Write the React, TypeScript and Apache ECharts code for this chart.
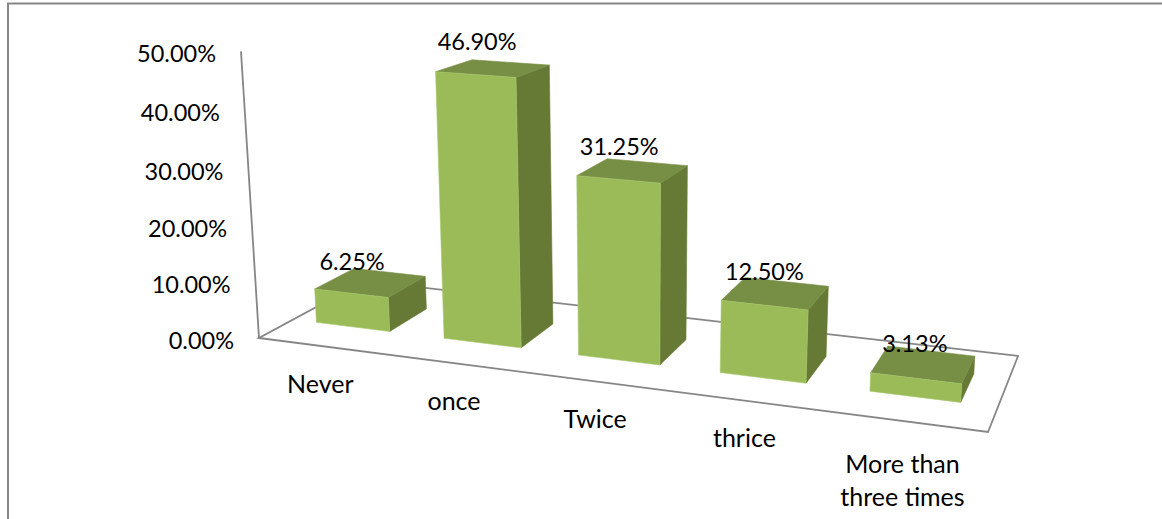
import { useEffect, useRef } from "react";
import * as echarts from "echarts";

const categories = ["Never", "once", "Twice", "thrice", "More than\nthree times"];
const shares = [6.25, 46.9, 31.25, 12.5, 3.13];
const tickValues = [0, 10, 20, 30, 40, 50];
const tickLabels = ["0.00%", "10.00%", "20.00%", "30.00%", "40.00%", "50.00%"];

const FRONT = "#9BBB59";
const FRONT_EDGE = "#A8C86C";
const TOP = "#778F45";
const SIDE = "#667A36";
const LINE = "#868686";
const FONT_FAMILY = "Lato, 'Open Sans', sans-serif";
const FONT = `23.5px ${FONT_FAMILY}`;
const CATEGORY_FONT = `25px ${FONT_FAMILY}`;

const GRID = { left: 259, top: 52, width: 729, height: 286 };
const Y_MAX = 50;

// Camera projection: u runs along the categories, v runs into the depth of the floor, h is the value.
function project(u: number, v: number, h: number): number[] {
  const w = 1 - 0.1301 * u + 0.1215 * v - 0.00091 * h;
  return [
    (600.5 * u + 149.8 * v + 259 - 0.579 * h) / w,
    (37.8 * u - 22.9 * v + 338 - 5.78 * h) / w,
  ];
}

// Converts a point placed by the cartesian axes into projected screen space.
function fromAxes(api: any, category: number, value: number) {
  const p = api.coord([category, value]);
  return {
    u: (p[0] - GRID.left) / GRID.width,
    h: ((GRID.top + GRID.height - p[1]) / GRID.height) * Y_MAX,
  };
}

const BAR_V0 = 0.3;
const BAR_V1 = 0.68;
const BAR_U_BEFORE = 0.0625;
const BAR_U_AFTER = 0.0535;

function renderFloor() {
  const corners = [project(0, 0, 0), project(1, 0, 0), project(1, 1, 0), project(0, 1, 0)];
  return {
    type: "group",
    children: [
      {
        type: "polygon",
        shape: { points: corners },
        style: { fill: "none", stroke: LINE, lineWidth: 1.8 },
      },
      {
        type: "polyline",
        shape: { points: [project(0, 0, 0), project(0, 0, Y_MAX)] },
        style: { fill: "none", stroke: LINE, lineWidth: 1.8 },
      },
    ],
  };
}

function renderBar(params: any, api: any) {
  const value = api.value(1);
  const { u, h } = fromAxes(api, api.value(0), value);
  const u0 = u - BAR_U_BEFORE;
  const u1 = u + BAR_U_AFTER;
  const face = (pts: number[][], fill: string, stroke: string) => ({
    type: "polygon",
    shape: { points: pts },
    style: { fill, stroke, lineWidth: 0.6 },
  });
  const anchor = project((u0 + u1) / 2, (BAR_V0 + BAR_V1) / 2, h);
  return {
    type: "group",
    children: [
      face(
        [project(u1, BAR_V0, 0), project(u1, BAR_V1, 0), project(u1, BAR_V1, h), project(u1, BAR_V0, h)],
        SIDE,
        SIDE,
      ),
      face(
        [project(u0, BAR_V0, h), project(u1, BAR_V0, h), project(u1, BAR_V1, h), project(u0, BAR_V1, h)],
        TOP,
        TOP,
      ),
      face(
        [project(u0, BAR_V0, 0), project(u1, BAR_V0, 0), project(u1, BAR_V0, h), project(u0, BAR_V0, h)],
        FRONT,
        FRONT_EDGE,
      ),
      {
        type: "text",
        x: anchor[0] - 20 + 12.5 * u,
        y: anchor[1] - 20.5 - 0.14 * h,
        style: {
          text: value.toFixed(2) + "%",
          font: FONT,
          fill: "#000",
          align: "center",
          verticalAlign: "middle",
        },
      },
    ],
  };
}

function renderCategoryLabel(params: any, api: any) {
  const index = api.value(0);
  const { u } = fromAxes(api, index, 0);
  const text = categories[index];
  const extraLines = text.split("\n").length - 1;
  const p = project(u, 0, 0);
  return {
    type: "text",
    x: p[0] - 3,
    y: p[1] + 36.5 + extraLines * 22,
    style: {
      text,
      font: CATEGORY_FONT,
      fill: "#000",
      align: "center",
      verticalAlign: "middle",
      lineHeight: 33,
    },
  };
}

function renderTickLabel(params: any, api: any) {
  const value = api.value(1);
  const { h } = fromAxes(api, 0, value);
  const p = project(0, 0, h);
  return {
    type: "text",
    x: p[0] - 25,
    y: p[1] + 1.5,
    style: {
      text: tickLabels[params.dataIndex],
      font: FONT,
      fill: "#000",
      align: "right",
      verticalAlign: "middle",
    },
  };
}

export default function App() {
  const ref = useRef<HTMLDivElement>(null);

  useEffect(() => {
    const previousMargin = document.body.style.margin;
    document.body.style.margin = "0";
    const chart = echarts.init(ref.current!, undefined, { renderer: "svg" });
    const customBase = { type: "custom", clip: false, silent: true };
    chart.setOption({
      animation: false,
      backgroundColor: "#fff",
      textStyle: { fontFamily: FONT_FAMILY },
      grid: { ...GRID },
      xAxis: { type: "category", data: categories, show: false },
      yAxis: { type: "value", min: 0, max: Y_MAX, interval: 10, show: false },
      graphic: [
        {
          type: "polyline",
          silent: true,
          shape: { points: [[8, 519], [8, 3.5], [1162, 3.5]] },
          style: { fill: "none", stroke: LINE, lineWidth: 2 },
        },
      ],
      series: [
        { ...customBase, name: "floor", renderItem: renderFloor, data: [[0, 0]], z: 1 },
        {
          ...customBase,
          name: "share",
          renderItem: renderBar,
          encode: { x: 0, y: 1 },
          data: shares.map((s, i) => [i, s]),
          z: 2,
        },
        {
          ...customBase,
          name: "categories",
          renderItem: renderCategoryLabel,
          encode: { x: 0, y: 1 },
          data: categories.map((_, i) => [i, 0]),
          z: 3,
        },
        {
          ...customBase,
          name: "ticks",
          renderItem: renderTickLabel,
          encode: { x: 0, y: 1 },
          data: tickValues.map((t) => [0, t]),
          z: 3,
        },
      ],
    });
    return () => {
      chart.dispose();
      document.body.style.margin = previousMargin;
    };
  }, []);

  return <div ref={ref} style={{ width: 1162, height: 519 }} />;
}
